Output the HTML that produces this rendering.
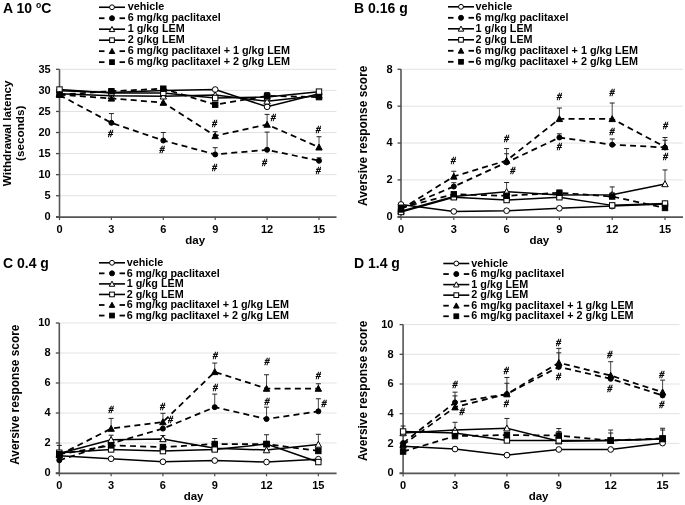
<!DOCTYPE html><html><head><meta charset="utf-8"><style>html,body{margin:0;padding:0;background:#fff;}svg{display:block;will-change:transform}.h{font-family:"Liberation Serif",serif}</style></head><body>
<svg width="685" height="505" viewBox="0 0 685 505" font-family="'Liberation Sans', sans-serif" font-weight="bold">
<rect width="685" height="505" fill="#fff"/>
<g id="pA"><line x1="59.5" y1="195.73" x2="336.5" y2="195.73" stroke="#e2e2e2" stroke-width="1"/><line x1="59.5" y1="174.66" x2="336.5" y2="174.66" stroke="#e2e2e2" stroke-width="1"/><line x1="59.5" y1="153.59" x2="336.5" y2="153.59" stroke="#e2e2e2" stroke-width="1"/><line x1="59.5" y1="132.52" x2="336.5" y2="132.52" stroke="#e2e2e2" stroke-width="1"/><line x1="59.5" y1="111.45" x2="336.5" y2="111.45" stroke="#e2e2e2" stroke-width="1"/><line x1="59.5" y1="90.38" x2="336.5" y2="90.38" stroke="#e2e2e2" stroke-width="1"/><line x1="59.5" y1="69.31" x2="336.5" y2="69.31" stroke="#e2e2e2" stroke-width="1"/><line x1="59.5" y1="69.31" x2="59.5" y2="216.8" stroke="#555" stroke-width="1.6"/><line x1="56" y1="217.1" x2="336.5" y2="217.1" stroke="#555" stroke-width="1.8"/><line x1="56" y1="216.8" x2="59.5" y2="216.8" stroke="#4a4a4a" stroke-width="1.3"/><text x="50.7" y="220.1" font-size="11" text-anchor="end">0</text><line x1="56" y1="195.73" x2="59.5" y2="195.73" stroke="#4a4a4a" stroke-width="1.3"/><text x="50.7" y="199.03" font-size="11" text-anchor="end">5</text><line x1="56" y1="174.66" x2="59.5" y2="174.66" stroke="#4a4a4a" stroke-width="1.3"/><text x="50.7" y="177.96" font-size="11" text-anchor="end">10</text><line x1="56" y1="153.59" x2="59.5" y2="153.59" stroke="#4a4a4a" stroke-width="1.3"/><text x="50.7" y="156.89" font-size="11" text-anchor="end">15</text><line x1="56" y1="132.52" x2="59.5" y2="132.52" stroke="#4a4a4a" stroke-width="1.3"/><text x="50.7" y="135.82" font-size="11" text-anchor="end">20</text><line x1="56" y1="111.45" x2="59.5" y2="111.45" stroke="#4a4a4a" stroke-width="1.3"/><text x="50.7" y="114.75" font-size="11" text-anchor="end">25</text><line x1="56" y1="90.38" x2="59.5" y2="90.38" stroke="#4a4a4a" stroke-width="1.3"/><text x="50.7" y="93.68" font-size="11" text-anchor="end">30</text><line x1="56" y1="69.31" x2="59.5" y2="69.31" stroke="#4a4a4a" stroke-width="1.3"/><text x="50.7" y="72.61" font-size="11" text-anchor="end">35</text><line x1="59.5" y1="216.8" x2="59.5" y2="220.1" stroke="#4a4a4a" stroke-width="1.2"/><text x="59.5" y="232.8" font-size="11" text-anchor="middle">0</text><line x1="111.4" y1="216.8" x2="111.4" y2="220.1" stroke="#4a4a4a" stroke-width="1.2"/><text x="111.4" y="232.8" font-size="11" text-anchor="middle">3</text><line x1="163.3" y1="216.8" x2="163.3" y2="220.1" stroke="#4a4a4a" stroke-width="1.2"/><text x="163.3" y="232.8" font-size="11" text-anchor="middle">6</text><line x1="215.2" y1="216.8" x2="215.2" y2="220.1" stroke="#4a4a4a" stroke-width="1.2"/><text x="215.2" y="232.8" font-size="11" text-anchor="middle">9</text><line x1="267.1" y1="216.8" x2="267.1" y2="220.1" stroke="#4a4a4a" stroke-width="1.2"/><text x="267.1" y="232.8" font-size="11" text-anchor="middle">12</text><line x1="319" y1="216.8" x2="319" y2="220.1" stroke="#4a4a4a" stroke-width="1.2"/><text x="319" y="232.8" font-size="11" text-anchor="middle">15</text><text x="195.2" y="244" font-size="11.5" text-anchor="middle">day</text><text transform="translate(11,133.3) rotate(-90)" font-size="11.7" text-anchor="middle">Withdrawal latency</text><text transform="translate(24.4,133.3) rotate(-90)" font-size="11.7" text-anchor="middle">(seconds)</text><text x="3" y="12.7" font-size="14">A 10 <tspan font-size="8.6" dy="-4.6">o</tspan><tspan dy="4.6">C</tspan></text><line x1="99" y1="7.25" x2="125" y2="7.25" stroke="#000" stroke-width="1.6"/><circle cx="112" cy="7.25" r="2.42" fill="#fff" stroke="#000" stroke-width="1"/><text x="127.7" y="10.45" font-size="10.8">vehicle</text><line x1="99" y1="18.23" x2="104.5" y2="18.23" stroke="#000" stroke-width="1.8"/><line x1="119.5" y1="18.23" x2="125" y2="18.23" stroke="#000" stroke-width="1.8"/><circle cx="112" cy="18.23" r="2.5" fill="#000" stroke="#000" stroke-width="1"/><text x="127.7" y="21.43" font-size="10.8">6 mg/kg paclitaxel</text><line x1="99" y1="29.21" x2="125" y2="29.21" stroke="#000" stroke-width="1.6"/><path d="M112 26.43L114.78 31.58L109.22 31.58Z" fill="#fff" stroke="#000" stroke-width="1"/><text x="127.7" y="32.41" font-size="10.8">1 g/kg LEM</text><line x1="99" y1="40.19" x2="125" y2="40.19" stroke="#000" stroke-width="1.6"/><rect x="109.65" y="37.84" width="4.7" height="4.7" fill="#fff" stroke="#000" stroke-width="1"/><text x="127.7" y="43.39" font-size="10.8">2 g/kg LEM</text><line x1="99" y1="51.17" x2="104.5" y2="51.17" stroke="#000" stroke-width="1.8"/><line x1="119.5" y1="51.17" x2="125" y2="51.17" stroke="#000" stroke-width="1.8"/><path d="M112 48.39L114.78 53.54L109.22 53.54Z" fill="#000" stroke="#000" stroke-width="1"/><text x="127.7" y="54.37" font-size="10.8">6 mg/kg paclitaxel + 1 g/kg LEM</text><line x1="99" y1="62.15" x2="104.5" y2="62.15" stroke="#000" stroke-width="1.8"/><line x1="119.5" y1="62.15" x2="125" y2="62.15" stroke="#000" stroke-width="1.8"/><rect x="109.65" y="59.8" width="4.7" height="4.7" fill="#000" stroke="#000" stroke-width="1"/><text x="127.7" y="65.35" font-size="10.8">6 mg/kg paclitaxel + 2 g/kg LEM</text><line x1="111.4" y1="122.83" x2="111.4" y2="113.56" stroke="#333" stroke-width="0.9"/><line x1="108.9" y1="113.56" x2="113.9" y2="113.56" stroke="#222" stroke-width="1"/><line x1="163.3" y1="140.53" x2="163.3" y2="132.52" stroke="#333" stroke-width="0.9"/><line x1="160.8" y1="132.52" x2="165.8" y2="132.52" stroke="#222" stroke-width="1"/><line x1="215.2" y1="154.43" x2="215.2" y2="147.69" stroke="#333" stroke-width="0.9"/><line x1="212.7" y1="147.69" x2="217.7" y2="147.69" stroke="#222" stroke-width="1"/><line x1="267.1" y1="149.8" x2="267.1" y2="132.1" stroke="#333" stroke-width="0.9"/><line x1="264.6" y1="132.1" x2="269.6" y2="132.1" stroke="#222" stroke-width="1"/><line x1="319" y1="160.75" x2="319" y2="157.8" stroke="#333" stroke-width="0.9"/><line x1="316.5" y1="157.8" x2="321.5" y2="157.8" stroke="#222" stroke-width="1"/><line x1="215.2" y1="135.89" x2="215.2" y2="131.68" stroke="#333" stroke-width="0.9"/><line x1="212.7" y1="131.68" x2="217.7" y2="131.68" stroke="#222" stroke-width="1"/><line x1="267.1" y1="124.51" x2="267.1" y2="114.4" stroke="#333" stroke-width="0.9"/><line x1="264.6" y1="114.4" x2="269.6" y2="114.4" stroke="#222" stroke-width="1"/><line x1="319" y1="147.27" x2="319" y2="136.73" stroke="#333" stroke-width="0.9"/><line x1="316.5" y1="136.73" x2="321.5" y2="136.73" stroke="#222" stroke-width="1"/><line x1="267.1" y1="95.86" x2="267.1" y2="92.49" stroke="#333" stroke-width="0.9"/><line x1="264.6" y1="92.49" x2="269.6" y2="92.49" stroke="#222" stroke-width="1"/><polyline points="59.5,90.8 111.4,92.49 163.3,90.38 215.2,89.54 267.1,106.81 319,93.75" fill="none" stroke="#000" stroke-width="1.5"/><polyline points="59.5,95.02 111.4,122.83 163.3,140.53 215.2,154.43 267.1,149.8 319,160.75" fill="none" stroke="#000" stroke-width="1.75" stroke-dasharray="6 4.2"/><polyline points="59.5,93.75 111.4,95.86 163.3,96.28 215.2,95.02 267.1,101.34 319,95.44" fill="none" stroke="#000" stroke-width="1.5"/><polyline points="59.5,89.54 111.4,92.91 163.3,92.91 215.2,97.97 267.1,97.12 319,91.64" fill="none" stroke="#000" stroke-width="1.5"/><polyline points="59.5,94.59 111.4,98.39 163.3,102.6 215.2,135.89 267.1,124.51 319,147.27" fill="none" stroke="#000" stroke-width="1.75" stroke-dasharray="6 4.2"/><polyline points="59.5,94.59 111.4,91.22 163.3,88.69 215.2,104.71 267.1,95.86 319,97.12" fill="none" stroke="#000" stroke-width="1.75" stroke-dasharray="6 4.2"/><circle cx="59.5" cy="90.8" r="2.85" fill="#fff" stroke="#000" stroke-width="1"/><circle cx="111.4" cy="92.49" r="2.85" fill="#fff" stroke="#000" stroke-width="1"/><circle cx="163.3" cy="90.38" r="2.85" fill="#fff" stroke="#000" stroke-width="1"/><circle cx="215.2" cy="89.54" r="2.85" fill="#fff" stroke="#000" stroke-width="1"/><circle cx="267.1" cy="106.81" r="2.85" fill="#fff" stroke="#000" stroke-width="1"/><circle cx="319" cy="93.75" r="2.85" fill="#fff" stroke="#000" stroke-width="1"/><circle cx="59.5" cy="95.02" r="2.5" fill="#000" stroke="#000" stroke-width="1"/><circle cx="111.4" cy="122.83" r="2.5" fill="#000" stroke="#000" stroke-width="1"/><circle cx="163.3" cy="140.53" r="2.5" fill="#000" stroke="#000" stroke-width="1"/><circle cx="215.2" cy="154.43" r="2.5" fill="#000" stroke="#000" stroke-width="1"/><circle cx="267.1" cy="149.8" r="2.5" fill="#000" stroke="#000" stroke-width="1"/><circle cx="319" cy="160.75" r="2.5" fill="#000" stroke="#000" stroke-width="1"/><path d="M59.5 90.55L62.7 96.47L56.3 96.47Z" fill="#fff" stroke="#000" stroke-width="1"/><path d="M111.4 92.66L114.6 98.58L108.2 98.58Z" fill="#fff" stroke="#000" stroke-width="1"/><path d="M163.3 93.08L166.5 99L160.1 99Z" fill="#fff" stroke="#000" stroke-width="1"/><path d="M215.2 91.82L218.4 97.74L212 97.74Z" fill="#fff" stroke="#000" stroke-width="1"/><path d="M267.1 98.14L270.3 104.06L263.9 104.06Z" fill="#fff" stroke="#000" stroke-width="1"/><path d="M319 92.24L322.2 98.16L315.8 98.16Z" fill="#fff" stroke="#000" stroke-width="1"/><rect x="56.8" y="86.84" width="5.4" height="5.4" fill="#fff" stroke="#000" stroke-width="1"/><rect x="108.7" y="90.21" width="5.4" height="5.4" fill="#fff" stroke="#000" stroke-width="1"/><rect x="160.6" y="90.21" width="5.4" height="5.4" fill="#fff" stroke="#000" stroke-width="1"/><rect x="212.5" y="95.27" width="5.4" height="5.4" fill="#fff" stroke="#000" stroke-width="1"/><rect x="264.4" y="94.42" width="5.4" height="5.4" fill="#fff" stroke="#000" stroke-width="1"/><rect x="316.3" y="88.94" width="5.4" height="5.4" fill="#fff" stroke="#000" stroke-width="1"/><path d="M59.5 91.39L62.7 97.31L56.3 97.31Z" fill="#000" stroke="#000" stroke-width="1"/><path d="M111.4 95.19L114.6 101.11L108.2 101.11Z" fill="#000" stroke="#000" stroke-width="1"/><path d="M163.3 99.4L166.5 105.32L160.1 105.32Z" fill="#000" stroke="#000" stroke-width="1"/><path d="M215.2 132.69L218.4 138.61L212 138.61Z" fill="#000" stroke="#000" stroke-width="1"/><path d="M267.1 121.31L270.3 127.23L263.9 127.23Z" fill="#000" stroke="#000" stroke-width="1"/><path d="M319 144.07L322.2 149.99L315.8 149.99Z" fill="#000" stroke="#000" stroke-width="1"/><rect x="56.8" y="91.89" width="5.4" height="5.4" fill="#000" stroke="#000" stroke-width="1"/><rect x="108.7" y="88.52" width="5.4" height="5.4" fill="#000" stroke="#000" stroke-width="1"/><rect x="160.6" y="85.99" width="5.4" height="5.4" fill="#000" stroke="#000" stroke-width="1"/><rect x="212.5" y="102.01" width="5.4" height="5.4" fill="#000" stroke="#000" stroke-width="1"/><rect x="264.4" y="93.16" width="5.4" height="5.4" fill="#000" stroke="#000" stroke-width="1"/><rect x="316.3" y="94.42" width="5.4" height="5.4" fill="#000" stroke="#000" stroke-width="1"/><text x="110.5" y="136.6" class="h" font-size="10" font-style="italic" font-weight="normal" stroke="#000" stroke-width="0.4" text-anchor="middle">#</text><text x="162" y="152.8" class="h" font-size="10" font-style="italic" font-weight="normal" stroke="#000" stroke-width="0.4" text-anchor="middle">#</text><text x="214.5" y="127.1" class="h" font-size="10" font-style="italic" font-weight="normal" stroke="#000" stroke-width="0.4" text-anchor="middle">#</text><text x="214.5" y="170.5" class="h" font-size="10" font-style="italic" font-weight="normal" stroke="#000" stroke-width="0.4" text-anchor="middle">#</text><text x="273.2" y="120.5" class="h" font-size="10" font-style="italic" font-weight="normal" stroke="#000" stroke-width="0.4" text-anchor="middle">#</text><text x="264.4" y="165.6" class="h" font-size="10" font-style="italic" font-weight="normal" stroke="#000" stroke-width="0.4" text-anchor="middle">#</text><text x="318.2" y="132.8" class="h" font-size="10" font-style="italic" font-weight="normal" stroke="#000" stroke-width="0.4" text-anchor="middle">#</text><text x="318.2" y="173.7" class="h" font-size="10" font-style="italic" font-weight="normal" stroke="#000" stroke-width="0.4" text-anchor="middle">#</text></g>
<g id="pB"><line x1="401" y1="179.92" x2="683" y2="179.92" stroke="#e2e2e2" stroke-width="1"/><line x1="401" y1="143.04" x2="683" y2="143.04" stroke="#e2e2e2" stroke-width="1"/><line x1="401" y1="106.16" x2="683" y2="106.16" stroke="#e2e2e2" stroke-width="1"/><line x1="401" y1="69.28" x2="683" y2="69.28" stroke="#e2e2e2" stroke-width="1"/><line x1="401" y1="69.28" x2="401" y2="216.8" stroke="#555" stroke-width="1.6"/><line x1="397.5" y1="217.1" x2="683" y2="217.1" stroke="#555" stroke-width="1.8"/><line x1="397.5" y1="216.8" x2="401" y2="216.8" stroke="#4a4a4a" stroke-width="1.3"/><text x="392.5" y="220.1" font-size="11" text-anchor="end">0</text><line x1="397.5" y1="179.92" x2="401" y2="179.92" stroke="#4a4a4a" stroke-width="1.3"/><text x="392.5" y="183.22" font-size="11" text-anchor="end">2</text><line x1="397.5" y1="143.04" x2="401" y2="143.04" stroke="#4a4a4a" stroke-width="1.3"/><text x="392.5" y="146.34" font-size="11" text-anchor="end">4</text><line x1="397.5" y1="106.16" x2="401" y2="106.16" stroke="#4a4a4a" stroke-width="1.3"/><text x="392.5" y="109.46" font-size="11" text-anchor="end">6</text><line x1="397.5" y1="69.28" x2="401" y2="69.28" stroke="#4a4a4a" stroke-width="1.3"/><text x="392.5" y="72.58" font-size="11" text-anchor="end">8</text><line x1="401" y1="216.8" x2="401" y2="220.1" stroke="#4a4a4a" stroke-width="1.2"/><text x="401" y="232.8" font-size="11" text-anchor="middle">0</text><line x1="453.8" y1="216.8" x2="453.8" y2="220.1" stroke="#4a4a4a" stroke-width="1.2"/><text x="453.8" y="232.8" font-size="11" text-anchor="middle">3</text><line x1="506.6" y1="216.8" x2="506.6" y2="220.1" stroke="#4a4a4a" stroke-width="1.2"/><text x="506.6" y="232.8" font-size="11" text-anchor="middle">6</text><line x1="559.4" y1="216.8" x2="559.4" y2="220.1" stroke="#4a4a4a" stroke-width="1.2"/><text x="559.4" y="232.8" font-size="11" text-anchor="middle">9</text><line x1="612.2" y1="216.8" x2="612.2" y2="220.1" stroke="#4a4a4a" stroke-width="1.2"/><text x="612.2" y="232.8" font-size="11" text-anchor="middle">12</text><line x1="665" y1="216.8" x2="665" y2="220.1" stroke="#4a4a4a" stroke-width="1.2"/><text x="665" y="232.8" font-size="11" text-anchor="middle">15</text><text x="539.3" y="244" font-size="11.5" text-anchor="middle">day</text><text transform="translate(367,135.8) rotate(-90)" font-size="11.9" text-anchor="middle">Aversive response score</text><text x="354" y="12.7" font-size="14">B 0.16 g</text><line x1="448" y1="6.8" x2="474" y2="6.8" stroke="#000" stroke-width="1.6"/><circle cx="461" cy="6.8" r="2.42" fill="#fff" stroke="#000" stroke-width="1"/><text x="475.6" y="10" font-size="10.8">vehicle</text><line x1="448" y1="17.8" x2="453.5" y2="17.8" stroke="#000" stroke-width="1.8"/><line x1="468.5" y1="17.8" x2="474" y2="17.8" stroke="#000" stroke-width="1.8"/><circle cx="461" cy="17.8" r="2.5" fill="#000" stroke="#000" stroke-width="1"/><text x="475.6" y="21" font-size="10.8">6 mg/kg paclitaxel</text><line x1="448" y1="28.8" x2="474" y2="28.8" stroke="#000" stroke-width="1.6"/><path d="M461 26.02L463.78 31.17L458.22 31.17Z" fill="#fff" stroke="#000" stroke-width="1"/><text x="475.6" y="32" font-size="10.8">1 g/kg LEM</text><line x1="448" y1="39.8" x2="474" y2="39.8" stroke="#000" stroke-width="1.6"/><rect x="458.65" y="37.45" width="4.7" height="4.7" fill="#fff" stroke="#000" stroke-width="1"/><text x="475.6" y="43" font-size="10.8">2 g/kg LEM</text><line x1="448" y1="50.8" x2="453.5" y2="50.8" stroke="#000" stroke-width="1.8"/><line x1="468.5" y1="50.8" x2="474" y2="50.8" stroke="#000" stroke-width="1.8"/><path d="M461 48.02L463.78 53.17L458.22 53.17Z" fill="#000" stroke="#000" stroke-width="1"/><text x="475.6" y="54" font-size="10.8">6 mg/kg paclitaxel + 1 g/kg LEM</text><line x1="448" y1="61.8" x2="453.5" y2="61.8" stroke="#000" stroke-width="1.8"/><line x1="468.5" y1="61.8" x2="474" y2="61.8" stroke="#000" stroke-width="1.8"/><rect x="458.65" y="59.45" width="4.7" height="4.7" fill="#000" stroke="#000" stroke-width="1"/><text x="475.6" y="65" font-size="10.8">6 mg/kg paclitaxel + 2 g/kg LEM</text><line x1="453.8" y1="176.42" x2="453.8" y2="171.25" stroke="#333" stroke-width="0.9"/><line x1="451.3" y1="171.25" x2="456.3" y2="171.25" stroke="#222" stroke-width="1"/><line x1="506.6" y1="160.56" x2="506.6" y2="148.57" stroke="#333" stroke-width="0.9"/><line x1="504.1" y1="148.57" x2="509.1" y2="148.57" stroke="#222" stroke-width="1"/><line x1="559.4" y1="118.88" x2="559.4" y2="108" stroke="#333" stroke-width="0.9"/><line x1="556.9" y1="108" x2="561.9" y2="108" stroke="#222" stroke-width="1"/><line x1="612.2" y1="118.88" x2="612.2" y2="103.03" stroke="#333" stroke-width="0.9"/><line x1="609.7" y1="103.03" x2="614.7" y2="103.03" stroke="#222" stroke-width="1"/><line x1="665" y1="146.91" x2="665" y2="137.51" stroke="#333" stroke-width="0.9"/><line x1="662.5" y1="137.51" x2="667.5" y2="137.51" stroke="#222" stroke-width="1"/><line x1="506.6" y1="162.4" x2="506.6" y2="153.74" stroke="#333" stroke-width="0.9"/><line x1="504.1" y1="153.74" x2="509.1" y2="153.74" stroke="#222" stroke-width="1"/><line x1="559.4" y1="137.51" x2="559.4" y2="133.82" stroke="#333" stroke-width="0.9"/><line x1="556.9" y1="133.82" x2="561.9" y2="133.82" stroke="#222" stroke-width="1"/><line x1="612.2" y1="144.7" x2="612.2" y2="138.98" stroke="#333" stroke-width="0.9"/><line x1="609.7" y1="138.98" x2="614.7" y2="138.98" stroke="#222" stroke-width="1"/><line x1="665" y1="147.47" x2="665" y2="140.27" stroke="#333" stroke-width="0.9"/><line x1="662.5" y1="140.27" x2="667.5" y2="140.27" stroke="#222" stroke-width="1"/><line x1="453.8" y1="186.56" x2="453.8" y2="182.69" stroke="#333" stroke-width="0.9"/><line x1="451.3" y1="182.69" x2="456.3" y2="182.69" stroke="#222" stroke-width="1"/><line x1="506.6" y1="191.72" x2="506.6" y2="182.5" stroke="#333" stroke-width="0.9"/><line x1="504.1" y1="182.5" x2="509.1" y2="182.5" stroke="#222" stroke-width="1"/><line x1="612.2" y1="194.67" x2="612.2" y2="186.93" stroke="#333" stroke-width="0.9"/><line x1="609.7" y1="186.93" x2="614.7" y2="186.93" stroke="#222" stroke-width="1"/><line x1="665" y1="183.98" x2="665" y2="169.96" stroke="#333" stroke-width="0.9"/><line x1="662.5" y1="169.96" x2="667.5" y2="169.96" stroke="#222" stroke-width="1"/><line x1="559.4" y1="192.83" x2="559.4" y2="190.06" stroke="#333" stroke-width="0.9"/><line x1="556.9" y1="190.06" x2="561.9" y2="190.06" stroke="#222" stroke-width="1"/><line x1="506.6" y1="195.78" x2="506.6" y2="192.83" stroke="#333" stroke-width="0.9"/><line x1="504.1" y1="192.83" x2="509.1" y2="192.83" stroke="#222" stroke-width="1"/><line x1="612.2" y1="196.52" x2="612.2" y2="192.83" stroke="#333" stroke-width="0.9"/><line x1="609.7" y1="192.83" x2="614.7" y2="192.83" stroke="#222" stroke-width="1"/><polyline points="401,204.45 453.8,211.45 506.6,210.71 559.4,208.32 612.2,206.1 665,203.89" fill="none" stroke="#000" stroke-width="1.5"/><polyline points="401,208.5 453.8,186.56 506.6,162.4 559.4,137.51 612.2,144.7 665,147.47" fill="none" stroke="#000" stroke-width="1.75" stroke-dasharray="6 4.2"/><polyline points="401,211.27 453.8,196.52 506.6,191.72 559.4,195.04 612.2,194.67 665,183.98" fill="none" stroke="#000" stroke-width="1.5"/><polyline points="401,212.01 453.8,197.25 506.6,200.02 559.4,197.25 612.2,205.37 665,203.52" fill="none" stroke="#000" stroke-width="1.5"/><polyline points="401,209.42 453.8,176.42 506.6,160.56 559.4,118.88 612.2,118.88 665,146.91" fill="none" stroke="#000" stroke-width="1.75" stroke-dasharray="6 4.2"/><polyline points="401,207.76 453.8,194.3 506.6,195.78 559.4,192.83 612.2,196.52 665,207.95" fill="none" stroke="#000" stroke-width="1.75" stroke-dasharray="6 4.2"/><circle cx="401" cy="204.45" r="2.85" fill="#fff" stroke="#000" stroke-width="1"/><circle cx="453.8" cy="211.45" r="2.85" fill="#fff" stroke="#000" stroke-width="1"/><circle cx="506.6" cy="210.71" r="2.85" fill="#fff" stroke="#000" stroke-width="1"/><circle cx="559.4" cy="208.32" r="2.85" fill="#fff" stroke="#000" stroke-width="1"/><circle cx="612.2" cy="206.1" r="2.85" fill="#fff" stroke="#000" stroke-width="1"/><circle cx="665" cy="203.89" r="2.85" fill="#fff" stroke="#000" stroke-width="1"/><circle cx="401" cy="208.5" r="2.5" fill="#000" stroke="#000" stroke-width="1"/><circle cx="453.8" cy="186.56" r="2.5" fill="#000" stroke="#000" stroke-width="1"/><circle cx="506.6" cy="162.4" r="2.5" fill="#000" stroke="#000" stroke-width="1"/><circle cx="559.4" cy="137.51" r="2.5" fill="#000" stroke="#000" stroke-width="1"/><circle cx="612.2" cy="144.7" r="2.5" fill="#000" stroke="#000" stroke-width="1"/><circle cx="665" cy="147.47" r="2.5" fill="#000" stroke="#000" stroke-width="1"/><path d="M401 208.07L404.2 213.99L397.8 213.99Z" fill="#fff" stroke="#000" stroke-width="1"/><path d="M453.8 193.32L457 199.24L450.6 199.24Z" fill="#fff" stroke="#000" stroke-width="1"/><path d="M506.6 188.52L509.8 194.44L503.4 194.44Z" fill="#fff" stroke="#000" stroke-width="1"/><path d="M559.4 191.84L562.6 197.76L556.2 197.76Z" fill="#fff" stroke="#000" stroke-width="1"/><path d="M612.2 191.47L615.4 197.39L609 197.39Z" fill="#fff" stroke="#000" stroke-width="1"/><path d="M665 180.78L668.2 186.7L661.8 186.7Z" fill="#fff" stroke="#000" stroke-width="1"/><rect x="398.3" y="209.31" width="5.4" height="5.4" fill="#fff" stroke="#000" stroke-width="1"/><rect x="451.1" y="194.55" width="5.4" height="5.4" fill="#fff" stroke="#000" stroke-width="1"/><rect x="503.9" y="197.32" width="5.4" height="5.4" fill="#fff" stroke="#000" stroke-width="1"/><rect x="556.7" y="194.55" width="5.4" height="5.4" fill="#fff" stroke="#000" stroke-width="1"/><rect x="609.5" y="202.67" width="5.4" height="5.4" fill="#fff" stroke="#000" stroke-width="1"/><rect x="662.3" y="200.82" width="5.4" height="5.4" fill="#fff" stroke="#000" stroke-width="1"/><path d="M401 206.22L404.2 212.14L397.8 212.14Z" fill="#000" stroke="#000" stroke-width="1"/><path d="M453.8 173.22L457 179.14L450.6 179.14Z" fill="#000" stroke="#000" stroke-width="1"/><path d="M506.6 157.36L509.8 163.28L503.4 163.28Z" fill="#000" stroke="#000" stroke-width="1"/><path d="M559.4 115.68L562.6 121.6L556.2 121.6Z" fill="#000" stroke="#000" stroke-width="1"/><path d="M612.2 115.68L615.4 121.6L609 121.6Z" fill="#000" stroke="#000" stroke-width="1"/><path d="M665 143.71L668.2 149.63L661.8 149.63Z" fill="#000" stroke="#000" stroke-width="1"/><rect x="398.3" y="205.06" width="5.4" height="5.4" fill="#000" stroke="#000" stroke-width="1"/><rect x="451.1" y="191.6" width="5.4" height="5.4" fill="#000" stroke="#000" stroke-width="1"/><rect x="503.9" y="193.08" width="5.4" height="5.4" fill="#000" stroke="#000" stroke-width="1"/><rect x="556.7" y="190.13" width="5.4" height="5.4" fill="#000" stroke="#000" stroke-width="1"/><rect x="609.5" y="193.82" width="5.4" height="5.4" fill="#000" stroke="#000" stroke-width="1"/><rect x="662.3" y="205.25" width="5.4" height="5.4" fill="#000" stroke="#000" stroke-width="1"/><text x="453.2" y="164.2" class="h" font-size="10" font-style="italic" font-weight="normal" stroke="#000" stroke-width="0.4" text-anchor="middle">#</text><text x="506.5" y="141.8" class="h" font-size="10" font-style="italic" font-weight="normal" stroke="#000" stroke-width="0.4" text-anchor="middle">#</text><text x="512.8" y="174" class="h" font-size="10" font-style="italic" font-weight="normal" stroke="#000" stroke-width="0.4" text-anchor="middle">#</text><text x="559.2" y="100.2" class="h" font-size="10" font-style="italic" font-weight="normal" stroke="#000" stroke-width="0.4" text-anchor="middle">#</text><text x="559.2" y="149.6" class="h" font-size="10" font-style="italic" font-weight="normal" stroke="#000" stroke-width="0.4" text-anchor="middle">#</text><text x="612" y="96.4" class="h" font-size="10" font-style="italic" font-weight="normal" stroke="#000" stroke-width="0.4" text-anchor="middle">#</text><text x="612" y="135.2" class="h" font-size="10" font-style="italic" font-weight="normal" stroke="#000" stroke-width="0.4" text-anchor="middle">#</text><text x="665.5" y="128.9" class="h" font-size="10" font-style="italic" font-weight="normal" stroke="#000" stroke-width="0.4" text-anchor="middle">#</text><text x="665.5" y="159.6" class="h" font-size="10" font-style="italic" font-weight="normal" stroke="#000" stroke-width="0.4" text-anchor="middle">#</text></g>
<g id="pC"><line x1="59.3" y1="443" x2="336.6" y2="443" stroke="#e2e2e2" stroke-width="1"/><line x1="59.3" y1="413" x2="336.6" y2="413" stroke="#e2e2e2" stroke-width="1"/><line x1="59.3" y1="383" x2="336.6" y2="383" stroke="#e2e2e2" stroke-width="1"/><line x1="59.3" y1="353" x2="336.6" y2="353" stroke="#e2e2e2" stroke-width="1"/><line x1="59.3" y1="323" x2="336.6" y2="323" stroke="#e2e2e2" stroke-width="1"/><line x1="59.3" y1="323" x2="59.3" y2="473" stroke="#555" stroke-width="1.6"/><line x1="55.8" y1="473.3" x2="336.6" y2="473.3" stroke="#555" stroke-width="1.8"/><line x1="55.8" y1="473" x2="59.3" y2="473" stroke="#4a4a4a" stroke-width="1.3"/><text x="50.5" y="476.3" font-size="11" text-anchor="end">0</text><line x1="55.8" y1="443" x2="59.3" y2="443" stroke="#4a4a4a" stroke-width="1.3"/><text x="50.5" y="446.3" font-size="11" text-anchor="end">2</text><line x1="55.8" y1="413" x2="59.3" y2="413" stroke="#4a4a4a" stroke-width="1.3"/><text x="50.5" y="416.3" font-size="11" text-anchor="end">4</text><line x1="55.8" y1="383" x2="59.3" y2="383" stroke="#4a4a4a" stroke-width="1.3"/><text x="50.5" y="386.3" font-size="11" text-anchor="end">6</text><line x1="55.8" y1="353" x2="59.3" y2="353" stroke="#4a4a4a" stroke-width="1.3"/><text x="50.5" y="356.3" font-size="11" text-anchor="end">8</text><line x1="55.8" y1="323" x2="59.3" y2="323" stroke="#4a4a4a" stroke-width="1.3"/><text x="50.5" y="326.3" font-size="11" text-anchor="end">10</text><line x1="59.3" y1="473" x2="59.3" y2="476.3" stroke="#4a4a4a" stroke-width="1.2"/><text x="59.3" y="489" font-size="11" text-anchor="middle">0</text><line x1="111.11" y1="473" x2="111.11" y2="476.3" stroke="#4a4a4a" stroke-width="1.2"/><text x="111.11" y="489" font-size="11" text-anchor="middle">3</text><line x1="162.92" y1="473" x2="162.92" y2="476.3" stroke="#4a4a4a" stroke-width="1.2"/><text x="162.92" y="489" font-size="11" text-anchor="middle">6</text><line x1="214.73" y1="473" x2="214.73" y2="476.3" stroke="#4a4a4a" stroke-width="1.2"/><text x="214.73" y="489" font-size="11" text-anchor="middle">9</text><line x1="266.54" y1="473" x2="266.54" y2="476.3" stroke="#4a4a4a" stroke-width="1.2"/><text x="266.54" y="489" font-size="11" text-anchor="middle">12</text><line x1="318.35" y1="473" x2="318.35" y2="476.3" stroke="#4a4a4a" stroke-width="1.2"/><text x="318.35" y="489" font-size="11" text-anchor="middle">15</text><text x="193.6" y="500" font-size="11.5" text-anchor="middle">day</text><text transform="translate(19.4,394.7) rotate(-90)" font-size="11.9" text-anchor="middle">Aversive response score</text><text x="3" y="268" font-size="14">C 0.4 g</text><line x1="99" y1="262.8" x2="125" y2="262.8" stroke="#000" stroke-width="1.6"/><circle cx="112" cy="262.8" r="2.42" fill="#fff" stroke="#000" stroke-width="1"/><text x="126.7" y="266" font-size="10.8">vehicle</text><line x1="99" y1="273.35" x2="104.5" y2="273.35" stroke="#000" stroke-width="1.8"/><line x1="119.5" y1="273.35" x2="125" y2="273.35" stroke="#000" stroke-width="1.8"/><circle cx="112" cy="273.35" r="2.5" fill="#000" stroke="#000" stroke-width="1"/><text x="126.7" y="276.55" font-size="10.8">6 mg/kg paclitaxel</text><line x1="99" y1="283.9" x2="125" y2="283.9" stroke="#000" stroke-width="1.6"/><path d="M112 281.12L114.78 286.27L109.22 286.27Z" fill="#fff" stroke="#000" stroke-width="1"/><text x="126.7" y="287.1" font-size="10.8">1 g/kg LEM</text><line x1="99" y1="294.45" x2="125" y2="294.45" stroke="#000" stroke-width="1.6"/><rect x="109.65" y="292.1" width="4.7" height="4.7" fill="#fff" stroke="#000" stroke-width="1"/><text x="126.7" y="297.65" font-size="10.8">2 g/kg LEM</text><line x1="99" y1="305" x2="104.5" y2="305" stroke="#000" stroke-width="1.8"/><line x1="119.5" y1="305" x2="125" y2="305" stroke="#000" stroke-width="1.8"/><path d="M112 302.22L114.78 307.37L109.22 307.37Z" fill="#000" stroke="#000" stroke-width="1"/><text x="126.7" y="308.2" font-size="10.8">6 mg/kg paclitaxel + 1 g/kg LEM</text><line x1="99" y1="315.55" x2="104.5" y2="315.55" stroke="#000" stroke-width="1.8"/><line x1="119.5" y1="315.55" x2="125" y2="315.55" stroke="#000" stroke-width="1.8"/><rect x="109.65" y="313.2" width="4.7" height="4.7" fill="#000" stroke="#000" stroke-width="1"/><text x="126.7" y="318.75" font-size="10.8">6 mg/kg paclitaxel + 2 g/kg LEM</text><line x1="111.11" y1="428.6" x2="111.11" y2="418.4" stroke="#333" stroke-width="0.9"/><line x1="108.61" y1="418.4" x2="113.61" y2="418.4" stroke="#222" stroke-width="1"/><line x1="162.92" y1="422" x2="162.92" y2="413.3" stroke="#333" stroke-width="0.9"/><line x1="160.42" y1="413.3" x2="165.42" y2="413.3" stroke="#222" stroke-width="1"/><line x1="214.73" y1="371.9" x2="214.73" y2="363.05" stroke="#333" stroke-width="0.9"/><line x1="212.23" y1="363.05" x2="217.23" y2="363.05" stroke="#222" stroke-width="1"/><line x1="266.54" y1="388.55" x2="266.54" y2="374.75" stroke="#333" stroke-width="0.9"/><line x1="264.04" y1="374.75" x2="269.04" y2="374.75" stroke="#222" stroke-width="1"/><line x1="318.35" y1="388.55" x2="318.35" y2="383.75" stroke="#333" stroke-width="0.9"/><line x1="315.85" y1="383.75" x2="320.85" y2="383.75" stroke="#222" stroke-width="1"/><line x1="214.73" y1="407.15" x2="214.73" y2="394.1" stroke="#333" stroke-width="0.9"/><line x1="212.23" y1="394.1" x2="217.23" y2="394.1" stroke="#222" stroke-width="1"/><line x1="266.54" y1="419" x2="266.54" y2="407.15" stroke="#333" stroke-width="0.9"/><line x1="264.04" y1="407.15" x2="269.04" y2="407.15" stroke="#222" stroke-width="1"/><line x1="318.35" y1="411.35" x2="318.35" y2="398.75" stroke="#333" stroke-width="0.9"/><line x1="315.85" y1="398.75" x2="320.85" y2="398.75" stroke="#222" stroke-width="1"/><line x1="162.92" y1="428.6" x2="162.92" y2="423.5" stroke="#333" stroke-width="0.9"/><line x1="160.42" y1="423.5" x2="165.42" y2="423.5" stroke="#222" stroke-width="1"/><line x1="111.11" y1="439.7" x2="111.11" y2="435.2" stroke="#333" stroke-width="0.9"/><line x1="108.61" y1="435.2" x2="113.61" y2="435.2" stroke="#222" stroke-width="1"/><line x1="318.35" y1="444.5" x2="318.35" y2="434.3" stroke="#333" stroke-width="0.9"/><line x1="315.85" y1="434.3" x2="320.85" y2="434.3" stroke="#222" stroke-width="1"/><line x1="214.73" y1="444.05" x2="214.73" y2="438.5" stroke="#333" stroke-width="0.9"/><line x1="212.23" y1="438.5" x2="217.23" y2="438.5" stroke="#222" stroke-width="1"/><line x1="266.54" y1="444.05" x2="266.54" y2="434.75" stroke="#333" stroke-width="0.9"/><line x1="264.04" y1="434.75" x2="269.04" y2="434.75" stroke="#222" stroke-width="1"/><line x1="59.3" y1="452.75" x2="59.3" y2="445.4" stroke="#333" stroke-width="0.9"/><line x1="56.8" y1="445.4" x2="61.8" y2="445.4" stroke="#222" stroke-width="1"/><line x1="162.92" y1="438.95" x2="162.92" y2="435.5" stroke="#333" stroke-width="0.9"/><line x1="160.42" y1="435.5" x2="165.42" y2="435.5" stroke="#222" stroke-width="1"/><polyline points="59.3,455.75 111.11,458.75 162.92,461.75 214.73,460.55 266.54,462.05 318.35,459.2" fill="none" stroke="#000" stroke-width="1.5"/><polyline points="59.3,460.25 111.11,443.45 162.92,428.6 214.73,407.15 266.54,419 318.35,411.35" fill="none" stroke="#000" stroke-width="1.75" stroke-dasharray="6 4.2"/><polyline points="59.3,453.5 111.11,439.7 162.92,438.95 214.73,448.25 266.54,450.05 318.35,444.5" fill="none" stroke="#000" stroke-width="1.5"/><polyline points="59.3,452.75 111.11,449.45 162.92,451.1 214.73,449.45 266.54,444.05 318.35,462.05" fill="none" stroke="#000" stroke-width="1.5"/><polyline points="59.3,455 111.11,428.6 162.92,422 214.73,371.9 266.54,388.55 318.35,388.55" fill="none" stroke="#000" stroke-width="1.75" stroke-dasharray="6 4.2"/><polyline points="59.3,454.25 111.11,445.4 162.92,447.05 214.73,444.05 266.54,444.05 318.35,450.95" fill="none" stroke="#000" stroke-width="1.75" stroke-dasharray="6 4.2"/><circle cx="59.3" cy="455.75" r="2.85" fill="#fff" stroke="#000" stroke-width="1"/><circle cx="111.11" cy="458.75" r="2.85" fill="#fff" stroke="#000" stroke-width="1"/><circle cx="162.92" cy="461.75" r="2.85" fill="#fff" stroke="#000" stroke-width="1"/><circle cx="214.73" cy="460.55" r="2.85" fill="#fff" stroke="#000" stroke-width="1"/><circle cx="266.54" cy="462.05" r="2.85" fill="#fff" stroke="#000" stroke-width="1"/><circle cx="318.35" cy="459.2" r="2.85" fill="#fff" stroke="#000" stroke-width="1"/><circle cx="59.3" cy="460.25" r="2.5" fill="#000" stroke="#000" stroke-width="1"/><circle cx="111.11" cy="443.45" r="2.5" fill="#000" stroke="#000" stroke-width="1"/><circle cx="162.92" cy="428.6" r="2.5" fill="#000" stroke="#000" stroke-width="1"/><circle cx="214.73" cy="407.15" r="2.5" fill="#000" stroke="#000" stroke-width="1"/><circle cx="266.54" cy="419" r="2.5" fill="#000" stroke="#000" stroke-width="1"/><circle cx="318.35" cy="411.35" r="2.5" fill="#000" stroke="#000" stroke-width="1"/><path d="M59.3 450.3L62.5 456.22L56.1 456.22Z" fill="#fff" stroke="#000" stroke-width="1"/><path d="M111.11 436.5L114.31 442.42L107.91 442.42Z" fill="#fff" stroke="#000" stroke-width="1"/><path d="M162.92 435.75L166.12 441.67L159.72 441.67Z" fill="#fff" stroke="#000" stroke-width="1"/><path d="M214.73 445.05L217.93 450.97L211.53 450.97Z" fill="#fff" stroke="#000" stroke-width="1"/><path d="M266.54 446.85L269.74 452.77L263.34 452.77Z" fill="#fff" stroke="#000" stroke-width="1"/><path d="M318.35 441.3L321.55 447.22L315.15 447.22Z" fill="#fff" stroke="#000" stroke-width="1"/><rect x="56.6" y="450.05" width="5.4" height="5.4" fill="#fff" stroke="#000" stroke-width="1"/><rect x="108.41" y="446.75" width="5.4" height="5.4" fill="#fff" stroke="#000" stroke-width="1"/><rect x="160.22" y="448.4" width="5.4" height="5.4" fill="#fff" stroke="#000" stroke-width="1"/><rect x="212.03" y="446.75" width="5.4" height="5.4" fill="#fff" stroke="#000" stroke-width="1"/><rect x="263.84" y="441.35" width="5.4" height="5.4" fill="#fff" stroke="#000" stroke-width="1"/><rect x="315.65" y="459.35" width="5.4" height="5.4" fill="#fff" stroke="#000" stroke-width="1"/><path d="M59.3 451.8L62.5 457.72L56.1 457.72Z" fill="#000" stroke="#000" stroke-width="1"/><path d="M111.11 425.4L114.31 431.32L107.91 431.32Z" fill="#000" stroke="#000" stroke-width="1"/><path d="M162.92 418.8L166.12 424.72L159.72 424.72Z" fill="#000" stroke="#000" stroke-width="1"/><path d="M214.73 368.7L217.93 374.62L211.53 374.62Z" fill="#000" stroke="#000" stroke-width="1"/><path d="M266.54 385.35L269.74 391.27L263.34 391.27Z" fill="#000" stroke="#000" stroke-width="1"/><path d="M318.35 385.35L321.55 391.27L315.15 391.27Z" fill="#000" stroke="#000" stroke-width="1"/><rect x="56.6" y="451.55" width="5.4" height="5.4" fill="#000" stroke="#000" stroke-width="1"/><rect x="108.41" y="442.7" width="5.4" height="5.4" fill="#000" stroke="#000" stroke-width="1"/><rect x="160.22" y="444.35" width="5.4" height="5.4" fill="#000" stroke="#000" stroke-width="1"/><rect x="212.03" y="441.35" width="5.4" height="5.4" fill="#000" stroke="#000" stroke-width="1"/><rect x="263.84" y="441.35" width="5.4" height="5.4" fill="#000" stroke="#000" stroke-width="1"/><rect x="315.65" y="448.25" width="5.4" height="5.4" fill="#000" stroke="#000" stroke-width="1"/><text x="111" y="413.1" class="h" font-size="10" font-style="italic" font-weight="normal" stroke="#000" stroke-width="0.4" text-anchor="middle">#</text><text x="162.6" y="409.7" class="h" font-size="10" font-style="italic" font-weight="normal" stroke="#000" stroke-width="0.4" text-anchor="middle">#</text><text x="170.6" y="423.4" class="h" font-size="10" font-style="italic" font-weight="normal" stroke="#000" stroke-width="0.4" text-anchor="middle">#</text><text x="215.3" y="358.7" class="h" font-size="10" font-style="italic" font-weight="normal" stroke="#000" stroke-width="0.4" text-anchor="middle">#</text><text x="215.3" y="391.2" class="h" font-size="10" font-style="italic" font-weight="normal" stroke="#000" stroke-width="0.4" text-anchor="middle">#</text><text x="267" y="365.1" class="h" font-size="10" font-style="italic" font-weight="normal" stroke="#000" stroke-width="0.4" text-anchor="middle">#</text><text x="267" y="404.5" class="h" font-size="10" font-style="italic" font-weight="normal" stroke="#000" stroke-width="0.4" text-anchor="middle">#</text><text x="318.3" y="379" class="h" font-size="10" font-style="italic" font-weight="normal" stroke="#000" stroke-width="0.4" text-anchor="middle">#</text><text x="323.9" y="407.3" class="h" font-size="10" font-style="italic" font-weight="normal" stroke="#000" stroke-width="0.4" text-anchor="middle">#</text></g>
<g id="pD"><line x1="403.1" y1="443.4" x2="679.6" y2="443.4" stroke="#e2e2e2" stroke-width="1"/><line x1="403.1" y1="413.7" x2="679.6" y2="413.7" stroke="#e2e2e2" stroke-width="1"/><line x1="403.1" y1="384" x2="679.6" y2="384" stroke="#e2e2e2" stroke-width="1"/><line x1="403.1" y1="354.3" x2="679.6" y2="354.3" stroke="#e2e2e2" stroke-width="1"/><line x1="403.1" y1="324.6" x2="679.6" y2="324.6" stroke="#e2e2e2" stroke-width="1"/><line x1="403.1" y1="324.6" x2="403.1" y2="473.1" stroke="#555" stroke-width="1.6"/><line x1="399.6" y1="473.4" x2="679.6" y2="473.4" stroke="#555" stroke-width="1.8"/><line x1="399.6" y1="473.1" x2="403.1" y2="473.1" stroke="#4a4a4a" stroke-width="1.3"/><text x="393.5" y="476.4" font-size="11" text-anchor="end">0</text><line x1="399.6" y1="443.4" x2="403.1" y2="443.4" stroke="#4a4a4a" stroke-width="1.3"/><text x="393.5" y="446.7" font-size="11" text-anchor="end">2</text><line x1="399.6" y1="413.7" x2="403.1" y2="413.7" stroke="#4a4a4a" stroke-width="1.3"/><text x="393.5" y="417" font-size="11" text-anchor="end">4</text><line x1="399.6" y1="384" x2="403.1" y2="384" stroke="#4a4a4a" stroke-width="1.3"/><text x="393.5" y="387.3" font-size="11" text-anchor="end">6</text><line x1="399.6" y1="354.3" x2="403.1" y2="354.3" stroke="#4a4a4a" stroke-width="1.3"/><text x="393.5" y="357.6" font-size="11" text-anchor="end">8</text><line x1="399.6" y1="324.6" x2="403.1" y2="324.6" stroke="#4a4a4a" stroke-width="1.3"/><text x="393.5" y="327.9" font-size="11" text-anchor="end">10</text><line x1="403.1" y1="473.1" x2="403.1" y2="476.4" stroke="#4a4a4a" stroke-width="1.2"/><text x="403.1" y="489.1" font-size="11" text-anchor="middle">0</text><line x1="455" y1="473.1" x2="455" y2="476.4" stroke="#4a4a4a" stroke-width="1.2"/><text x="455" y="489.1" font-size="11" text-anchor="middle">3</text><line x1="506.9" y1="473.1" x2="506.9" y2="476.4" stroke="#4a4a4a" stroke-width="1.2"/><text x="506.9" y="489.1" font-size="11" text-anchor="middle">6</text><line x1="558.8" y1="473.1" x2="558.8" y2="476.4" stroke="#4a4a4a" stroke-width="1.2"/><text x="558.8" y="489.1" font-size="11" text-anchor="middle">9</text><line x1="610.7" y1="473.1" x2="610.7" y2="476.4" stroke="#4a4a4a" stroke-width="1.2"/><text x="610.7" y="489.1" font-size="11" text-anchor="middle">12</text><line x1="662.6" y1="473.1" x2="662.6" y2="476.4" stroke="#4a4a4a" stroke-width="1.2"/><text x="662.6" y="489.1" font-size="11" text-anchor="middle">15</text><text x="538.6" y="500" font-size="11.5" text-anchor="middle">day</text><text transform="translate(367,390.9) rotate(-90)" font-size="11.9" text-anchor="middle">Aversive response score</text><text x="354" y="268.3" font-size="14">D 1.4 g</text><line x1="443.3" y1="263.5" x2="469.3" y2="263.5" stroke="#000" stroke-width="1.6"/><circle cx="456.3" cy="263.5" r="2.42" fill="#fff" stroke="#000" stroke-width="1"/><text x="471.3" y="266.7" font-size="10.8">vehicle</text><line x1="443.3" y1="274.05" x2="448.8" y2="274.05" stroke="#000" stroke-width="1.8"/><line x1="463.8" y1="274.05" x2="469.3" y2="274.05" stroke="#000" stroke-width="1.8"/><circle cx="456.3" cy="274.05" r="2.5" fill="#000" stroke="#000" stroke-width="1"/><text x="471.3" y="277.25" font-size="10.8">6 mg/kg paclitaxel</text><line x1="443.3" y1="284.6" x2="469.3" y2="284.6" stroke="#000" stroke-width="1.6"/><path d="M456.3 281.82L459.08 286.97L453.52 286.97Z" fill="#fff" stroke="#000" stroke-width="1"/><text x="471.3" y="287.8" font-size="10.8">1 g/kg LEM</text><line x1="443.3" y1="295.15" x2="469.3" y2="295.15" stroke="#000" stroke-width="1.6"/><rect x="453.95" y="292.8" width="4.7" height="4.7" fill="#fff" stroke="#000" stroke-width="1"/><text x="471.3" y="298.35" font-size="10.8">2 g/kg LEM</text><line x1="443.3" y1="305.7" x2="448.8" y2="305.7" stroke="#000" stroke-width="1.8"/><line x1="463.8" y1="305.7" x2="469.3" y2="305.7" stroke="#000" stroke-width="1.8"/><path d="M456.3 302.92L459.08 308.07L453.52 308.07Z" fill="#000" stroke="#000" stroke-width="1"/><text x="471.3" y="308.9" font-size="10.8">6 mg/kg paclitaxel + 1 g/kg LEM</text><line x1="443.3" y1="316.25" x2="448.8" y2="316.25" stroke="#000" stroke-width="1.8"/><line x1="463.8" y1="316.25" x2="469.3" y2="316.25" stroke="#000" stroke-width="1.8"/><rect x="453.95" y="313.9" width="4.7" height="4.7" fill="#000" stroke="#000" stroke-width="1"/><text x="471.3" y="319.45" font-size="10.8">6 mg/kg paclitaxel + 2 g/kg LEM</text><line x1="455" y1="402.41" x2="455" y2="392.17" stroke="#333" stroke-width="0.9"/><line x1="452.5" y1="392.17" x2="457.5" y2="392.17" stroke="#222" stroke-width="1"/><line x1="506.9" y1="394.1" x2="506.9" y2="377.47" stroke="#333" stroke-width="0.9"/><line x1="504.4" y1="377.47" x2="509.4" y2="377.47" stroke="#222" stroke-width="1"/><line x1="558.8" y1="362.76" x2="558.8" y2="348.36" stroke="#333" stroke-width="0.9"/><line x1="556.3" y1="348.36" x2="561.3" y2="348.36" stroke="#222" stroke-width="1"/><line x1="558.8" y1="366.92" x2="558.8" y2="352.82" stroke="#333" stroke-width="0.9"/><line x1="556.3" y1="352.82" x2="561.3" y2="352.82" stroke="#222" stroke-width="1"/><line x1="610.7" y1="375.54" x2="610.7" y2="361.73" stroke="#333" stroke-width="0.9"/><line x1="608.2" y1="361.73" x2="613.2" y2="361.73" stroke="#222" stroke-width="1"/><line x1="662.6" y1="392.17" x2="662.6" y2="380.14" stroke="#333" stroke-width="0.9"/><line x1="660.1" y1="380.14" x2="665.1" y2="380.14" stroke="#222" stroke-width="1"/><line x1="455" y1="430.04" x2="455" y2="422.31" stroke="#333" stroke-width="0.9"/><line x1="452.5" y1="422.31" x2="457.5" y2="422.31" stroke="#222" stroke-width="1"/><line x1="506.9" y1="428.25" x2="506.9" y2="418.45" stroke="#333" stroke-width="0.9"/><line x1="504.4" y1="418.45" x2="509.4" y2="418.45" stroke="#222" stroke-width="1"/><line x1="506.9" y1="394.1" x2="506.9" y2="383.26" stroke="#333" stroke-width="0.9"/><line x1="504.4" y1="383.26" x2="509.4" y2="383.26" stroke="#222" stroke-width="1"/><line x1="455" y1="407.17" x2="455" y2="395.88" stroke="#333" stroke-width="0.9"/><line x1="452.5" y1="395.88" x2="457.5" y2="395.88" stroke="#222" stroke-width="1"/><line x1="558.8" y1="435.53" x2="558.8" y2="428.55" stroke="#333" stroke-width="0.9"/><line x1="556.3" y1="428.55" x2="561.3" y2="428.55" stroke="#222" stroke-width="1"/><line x1="610.7" y1="440.58" x2="610.7" y2="430.04" stroke="#333" stroke-width="0.9"/><line x1="608.2" y1="430.04" x2="613.2" y2="430.04" stroke="#222" stroke-width="1"/><line x1="662.6" y1="438.35" x2="662.6" y2="428.25" stroke="#333" stroke-width="0.9"/><line x1="660.1" y1="428.25" x2="665.1" y2="428.25" stroke="#222" stroke-width="1"/><line x1="403.1" y1="431.52" x2="403.1" y2="426.03" stroke="#333" stroke-width="0.9"/><line x1="400.6" y1="426.03" x2="405.6" y2="426.03" stroke="#222" stroke-width="1"/><line x1="558.8" y1="441.17" x2="558.8" y2="431.52" stroke="#333" stroke-width="0.9"/><line x1="556.3" y1="431.52" x2="561.3" y2="431.52" stroke="#222" stroke-width="1"/><line x1="610.7" y1="440.43" x2="610.7" y2="433" stroke="#333" stroke-width="0.9"/><line x1="608.2" y1="433" x2="613.2" y2="433" stroke="#222" stroke-width="1"/><line x1="662.6" y1="438.95" x2="662.6" y2="430.04" stroke="#333" stroke-width="0.9"/><line x1="660.1" y1="430.04" x2="665.1" y2="430.04" stroke="#222" stroke-width="1"/><polyline points="403.1,446.22 455,449.04 506.9,455.13 558.8,449.49 610.7,449.49 662.6,443.1" fill="none" stroke="#000" stroke-width="1.5"/><polyline points="403.1,443.1 455,402.41 506.9,394.1 558.8,366.92 610.7,378.8 662.6,395.43" fill="none" stroke="#000" stroke-width="1.75" stroke-dasharray="6 4.2"/><polyline points="403.1,433 455,430.04 506.9,428.25 558.8,441.17 610.7,440.43 662.6,438.95" fill="none" stroke="#000" stroke-width="1.5"/><polyline points="403.1,431.52 455,433 506.9,440.43 558.8,440.43 610.7,440.43 662.6,438.95" fill="none" stroke="#000" stroke-width="1.5"/><polyline points="403.1,444.89 455,407.17 506.9,394.1 558.8,362.76 610.7,375.54 662.6,392.17" fill="none" stroke="#000" stroke-width="1.75" stroke-dasharray="6 4.2"/><polyline points="403.1,451.57 455,436.12 506.9,435.08 558.8,435.53 610.7,440.58 662.6,438.35" fill="none" stroke="#000" stroke-width="1.75" stroke-dasharray="6 4.2"/><circle cx="403.1" cy="446.22" r="2.85" fill="#fff" stroke="#000" stroke-width="1"/><circle cx="455" cy="449.04" r="2.85" fill="#fff" stroke="#000" stroke-width="1"/><circle cx="506.9" cy="455.13" r="2.85" fill="#fff" stroke="#000" stroke-width="1"/><circle cx="558.8" cy="449.49" r="2.85" fill="#fff" stroke="#000" stroke-width="1"/><circle cx="610.7" cy="449.49" r="2.85" fill="#fff" stroke="#000" stroke-width="1"/><circle cx="662.6" cy="443.1" r="2.85" fill="#fff" stroke="#000" stroke-width="1"/><circle cx="403.1" cy="443.1" r="2.5" fill="#000" stroke="#000" stroke-width="1"/><circle cx="455" cy="402.41" r="2.5" fill="#000" stroke="#000" stroke-width="1"/><circle cx="506.9" cy="394.1" r="2.5" fill="#000" stroke="#000" stroke-width="1"/><circle cx="558.8" cy="366.92" r="2.5" fill="#000" stroke="#000" stroke-width="1"/><circle cx="610.7" cy="378.8" r="2.5" fill="#000" stroke="#000" stroke-width="1"/><circle cx="662.6" cy="395.43" r="2.5" fill="#000" stroke="#000" stroke-width="1"/><path d="M403.1 429.81L406.3 435.73L399.9 435.73Z" fill="#fff" stroke="#000" stroke-width="1"/><path d="M455 426.84L458.2 432.76L451.8 432.76Z" fill="#fff" stroke="#000" stroke-width="1"/><path d="M506.9 425.05L510.1 430.97L503.7 430.97Z" fill="#fff" stroke="#000" stroke-width="1"/><path d="M558.8 437.97L562 443.89L555.6 443.89Z" fill="#fff" stroke="#000" stroke-width="1"/><path d="M610.7 437.23L613.9 443.15L607.5 443.15Z" fill="#fff" stroke="#000" stroke-width="1"/><path d="M662.6 435.75L665.8 441.67L659.4 441.67Z" fill="#fff" stroke="#000" stroke-width="1"/><rect x="400.4" y="428.82" width="5.4" height="5.4" fill="#fff" stroke="#000" stroke-width="1"/><rect x="452.3" y="430.31" width="5.4" height="5.4" fill="#fff" stroke="#000" stroke-width="1"/><rect x="504.2" y="437.73" width="5.4" height="5.4" fill="#fff" stroke="#000" stroke-width="1"/><rect x="556.1" y="437.73" width="5.4" height="5.4" fill="#fff" stroke="#000" stroke-width="1"/><rect x="608" y="437.73" width="5.4" height="5.4" fill="#fff" stroke="#000" stroke-width="1"/><rect x="659.9" y="436.25" width="5.4" height="5.4" fill="#fff" stroke="#000" stroke-width="1"/><path d="M403.1 441.69L406.3 447.61L399.9 447.61Z" fill="#000" stroke="#000" stroke-width="1"/><path d="M455 403.97L458.2 409.89L451.8 409.89Z" fill="#000" stroke="#000" stroke-width="1"/><path d="M506.9 390.9L510.1 396.82L503.7 396.82Z" fill="#000" stroke="#000" stroke-width="1"/><path d="M558.8 359.56L562 365.48L555.6 365.48Z" fill="#000" stroke="#000" stroke-width="1"/><path d="M610.7 372.34L613.9 378.26L607.5 378.26Z" fill="#000" stroke="#000" stroke-width="1"/><path d="M662.6 388.97L665.8 394.89L659.4 394.89Z" fill="#000" stroke="#000" stroke-width="1"/><rect x="400.4" y="448.87" width="5.4" height="5.4" fill="#000" stroke="#000" stroke-width="1"/><rect x="452.3" y="433.42" width="5.4" height="5.4" fill="#000" stroke="#000" stroke-width="1"/><rect x="504.2" y="432.38" width="5.4" height="5.4" fill="#000" stroke="#000" stroke-width="1"/><rect x="556.1" y="432.83" width="5.4" height="5.4" fill="#000" stroke="#000" stroke-width="1"/><rect x="608" y="437.88" width="5.4" height="5.4" fill="#000" stroke="#000" stroke-width="1"/><rect x="659.9" y="435.65" width="5.4" height="5.4" fill="#000" stroke="#000" stroke-width="1"/><text x="455" y="387.9" class="h" font-size="10" font-style="italic" font-weight="normal" stroke="#000" stroke-width="0.4" text-anchor="middle">#</text><text x="462.1" y="415" class="h" font-size="10" font-style="italic" font-weight="normal" stroke="#000" stroke-width="0.4" text-anchor="middle">#</text><text x="506.3" y="374" class="h" font-size="10" font-style="italic" font-weight="normal" stroke="#000" stroke-width="0.4" text-anchor="middle">#</text><text x="506.3" y="406.7" class="h" font-size="10" font-style="italic" font-weight="normal" stroke="#000" stroke-width="0.4" text-anchor="middle">#</text><text x="558.4" y="346.3" class="h" font-size="10" font-style="italic" font-weight="normal" stroke="#000" stroke-width="0.4" text-anchor="middle">#</text><text x="558.4" y="380.1" class="h" font-size="10" font-style="italic" font-weight="normal" stroke="#000" stroke-width="0.4" text-anchor="middle">#</text><text x="609.7" y="357.9" class="h" font-size="10" font-style="italic" font-weight="normal" stroke="#000" stroke-width="0.4" text-anchor="middle">#</text><text x="609.7" y="392" class="h" font-size="10" font-style="italic" font-weight="normal" stroke="#000" stroke-width="0.4" text-anchor="middle">#</text><text x="661.8" y="377.6" class="h" font-size="10" font-style="italic" font-weight="normal" stroke="#000" stroke-width="0.4" text-anchor="middle">#</text><text x="661.8" y="407.8" class="h" font-size="10" font-style="italic" font-weight="normal" stroke="#000" stroke-width="0.4" text-anchor="middle">#</text></g>
</svg></body></html>
